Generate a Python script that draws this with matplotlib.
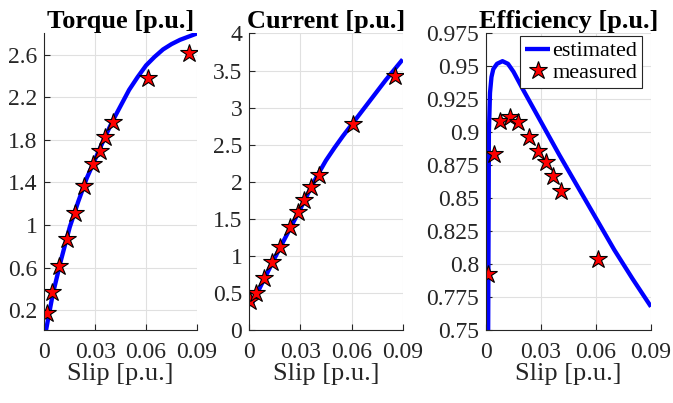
import matplotlib
matplotlib.use("Agg")
import matplotlib.pyplot as plt
from matplotlib.ticker import FuncFormatter

plt.rcParams["font.family"] = ["Liberation Serif", "DejaVu Serif"]

# --------------------------------------------------------------------------- #
# Data                                        #
# --------------------------------------------------------------------------- #

# estimated curves
curve_slip = [0.001, 0.005, 0.01, 0.015, 0.02, 0.025, 0.03, 0.035, 0.04, 0.045,
              0.05, 0.055, 0.06, 0.065, 0.07, 0.075, 0.08, 0.085, 0.09]
torque_est = [0.01, 0.35, 0.68, 0.98, 1.22, 1.44, 1.62, 1.80, 1.97, 2.12,
              2.27, 2.39, 2.50, 2.58, 2.65, 2.70, 2.74, 2.77, 2.80]
current_est = [0.34, 0.52, 0.75, 0.98, 1.20, 1.42, 1.64, 1.87, 2.09, 2.29,
               2.46, 2.62, 2.77, 2.92, 3.07, 3.22, 3.37, 3.51, 3.65]

eff_slip = [0.0008, 0.0016, 0.0022, 0.003, 0.004, 0.006, 0.009, 0.012, 0.015,
            0.02, 0.03, 0.04, 0.05, 0.06, 0.07, 0.08, 0.09]
eff_est = [0.60, 0.90, 0.930, 0.942, 0.948, 0.952, 0.954, 0.952, 0.946,
           0.933, 0.908, 0.883, 0.859, 0.835, 0.811, 0.789, 0.768]

# measured points
torque_slip = [0.0014, 0.0047, 0.0088, 0.0134, 0.0181, 0.0236, 0.0285, 0.0328,
               0.036, 0.0405, 0.061, 0.0855]
torque_meas = [0.17, 0.37, 0.62, 0.87, 1.11, 1.37, 1.57, 1.70, 1.83, 1.97, 2.38, 2.62]

current_slip = [0.0003, 0.0041, 0.0088, 0.0133, 0.0182, 0.0241, 0.0286, 0.0321,
                0.0362, 0.0407, 0.0609, 0.0857]
current_meas = [0.40, 0.51, 0.71, 0.92, 1.13, 1.39, 1.60, 1.76, 1.93, 2.10, 2.78, 3.43]

eff_meas_slip = [0.0013, 0.0042, 0.0079, 0.0131, 0.0177, 0.0237, 0.0286, 0.0328,
                 0.0366, 0.0407, 0.061]
eff_meas = [0.7926, 0.8838, 0.9084, 0.912, 0.9076, 0.8966, 0.8857, 0.8777,
            0.8672, 0.856, 0.804]

x_ticks = [0, 0.03, 0.06, 0.09]
torque_ticks = [0.2, 0.6, 1.0, 1.4, 1.8, 2.2, 2.6]
current_ticks = [0, 0.5, 1, 1.5, 2, 2.5, 3, 3.5, 4]
eff_ticks = [0.75, 0.775, 0.8, 0.825, 0.85, 0.875, 0.9, 0.925, 0.95, 0.975]

# --------------------------------------------------------------------------- #
# Plotting                                                                     #
# --------------------------------------------------------------------------- #

AX_COLOR = "#262626"
TICK_FS = 17
LABEL_FS = 19


def style_axes(ax, title, yticks, ylim):
    ax.set_xlim(0, 0.09)
    ax.set_ylim(*ylim)
    ax.set_xticks(x_ticks)
    ax.set_yticks(yticks)
    fmt = FuncFormatter(lambda v, p: f"{v:g}")
    ax.xaxis.set_major_formatter(fmt)
    ax.yaxis.set_major_formatter(fmt)
    ax.grid(True, color="#e0e0e0", linewidth=0.8)
    ax.set_axisbelow(True)
    for side in ("top", "right"):
        ax.spines[side].set_visible(False)
    for side in ("left", "bottom"):
        ax.spines[side].set_color(AX_COLOR)
        ax.spines[side].set_linewidth(0.8)
    ax.tick_params(direction="in", length=4, width=0.8, colors=AX_COLOR,
                   labelsize=TICK_FS, labelcolor=AX_COLOR)
    ax.tick_params(axis="x", pad=8)
    ax.tick_params(axis="y", pad=5)
    ax.set_xlabel("Slip [p.u.]", fontsize=LABEL_FS, color=AX_COLOR, labelpad=0)
    ax.set_title(title, fontsize=LABEL_FS, fontweight="bold", pad=4)


fig = plt.figure(figsize=(6.73, 4.03), dpi=100)
bottom, height = 0.180, 0.737
ax1 = fig.add_axes([0.0658, bottom, 0.2269, height])
ax2 = fig.add_axes([0.3704, bottom, 0.2279, height])
ax3 = fig.add_axes([0.7221, bottom, 0.2452, height])

line_kw = dict(color="#0000ff", linewidth=3.1, solid_capstyle="butt")
star_kw = dict(linestyle="none", marker="*", markersize=13.5, markerfacecolor="#ff0000",
               markeredgecolor="black", markeredgewidth=0.8)

ax1.plot(curve_slip, torque_est, **line_kw)
ax1.plot(torque_slip, torque_meas, **star_kw)
style_axes(ax1, "Torque [p.u.]", torque_ticks, (0.01, 2.8))

ax2.plot(curve_slip, current_est, **line_kw)
ax2.plot(current_slip, current_meas, **star_kw)
style_axes(ax2, "Current [p.u.]", current_ticks, (0, 4))

ax3.plot(eff_slip, eff_est, label="estimated", **line_kw)
ax3.plot(eff_meas_slip, eff_meas, label="measured", **star_kw)
style_axes(ax3, "Efficiency [p.u.]", eff_ticks, (0.75, 0.975))
leg = ax3.legend(loc="upper right", bbox_to_anchor=(0.945, 0.99), fontsize=16,
                 handlelength=1.15, handletextpad=0.1, borderpad=0.2, labelspacing=0.05,
                 borderaxespad=0, fancybox=False, framealpha=1, edgecolor=AX_COLOR)
leg.get_frame().set_linewidth(0.8)

fig.savefig("out.png", dpi=100)
